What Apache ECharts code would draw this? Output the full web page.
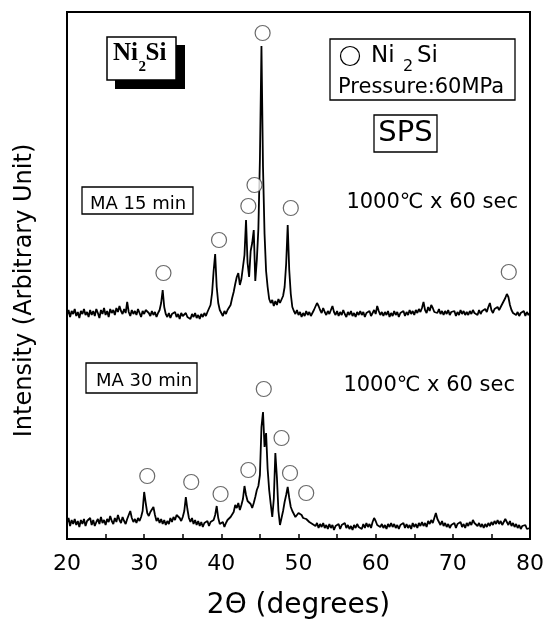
<!DOCTYPE html>
<html><head><meta charset="utf-8">
<script src="https://cdn.jsdelivr.net/npm/echarts@6/dist/echarts.min.js"></script>
<style>html,body{margin:0;padding:0;background:#fff}#c{width:552px;height:630px}</style>
</head><body><div id="c"></div>
<script>
// sampling of the diffraction scans: 2θ from 20° to 80° every 0.2°
const startAngle = 20, stepAngle = 0.2;
// MA 15 min, arbitrary intensity (offset trace)
const ma15 = [
224,229,222,228,225, 230,223,227,221,228, 225,230,224,227,222, 229,224,228,223,230,
226,221,229,225,231, 224,228,222,230,226, 229,224,231,227,233, 228,225,230,226,237,
227,223,229,225,228, 224,230,226,222,228, 225,229,231,226,223, 228,224,227,222,226,
229,236,249,232,225, 222,226,221,225,223, 227,222,225,220,226, 223,221,226,222,224,
220,225,222,226,221, 224,220,225,222,226, 223,227,229,234,246, 268,285,252,236,229,
226,223,228,225,229, 231,234,241,247,255, 262,266,254,260,272, 284,319,276,262,288,
296,309,258,279,310, 380,493,372,305,268, 252,240,236,239,233, 238,234,240,236,238,
243,252,275,314,269, 245,232,228,225,229, 224,227,222,226,223, 228,224,227,223,226,
229,231,236,233,229, 226,231,227,224,228, 225,229,233,227,224, 228,223,227,224,229,
225,222,227,224,228, 223,226,222,227,224, 228,224,227,222,226, 224,228,223,226,229,
225,233,228,224,227, 223,227,224,228,222, 226,223,228,224,227, 222,226,224,228,223,
227,224,229,225,228, 224,229,226,230,227, 231,237,229,226,232, 228,234,231,227,229,
226,230,225,228,224, 228,225,229,224,227, 225,228,223,227,224, 229,225,228,224,227,
224,228,225,229,226, 227,224,229,225,228, 226,230,227,232,236, 229,226,230,228,232,
229,232,235,238,241, 245,242,234,229,226, 228,224,227,223,226, 225,228,223,227,224,
226
];
// MA 30 min
const ma30 = [
16,21,13,19,15, 20,14,18,12,19, 15,20,13,18,16, 21,14,19,13,17,
20,15,22,16,19, 14,20,17,23,18, 15,21,17,24,19, 16,22,18,15,20,
24,28,21,17,20, 16,21,18,22,28, 47,36,26,23,27, 29,32,24,18,21,
16,20,15,19,14, 18,15,21,17,22, 19,24,26,21,18, 22,28,42,30,21,
17,21,15,19,14, 18,13,17,12,16, 14,18,13,17,15, 19,24,33,21,15,
13,17,12,16,19, 17,22,20,27,34, 31,36,29,34,40, 53,44,38,40,35,
31,36,42,49,53, 64,112,127,92,106, 70,49,35,22,40, 86,62,28,14,21,
28,37,44,52,41, 32,28,25,22,24, 26,27,24,21,23, 20,22,17,19,15,
17,13,16,11,15, 12,16,11,14,10, 15,11,14,9,13, 11,15,10,14,12,
16,11,14,10,13, 9,14,11,15,12, 14,10,15,11,16, 12,15,11,17,21,
18,14,16,12,15, 11,14,10,15,12, 16,12,15,11,14, 10,14,12,16,11,
15,11,14,10,16, 12,15,11,16,13, 17,13,16,12,18, 15,19,16,21,26,
20,17,14,18,13, 16,12,15,11,14, 12,16,11,15,13, 17,12,15,11,16,
13,17,14,19,16, 18,13,16,12,15, 11,15,12,16,13, 17,14,18,15,19,
15,18,14,17,20, 17,14,18,13,16, 12,15,11,14,10, 13,11,14,10,12,
11
];
// Ni2Si peak markers (2θ, marker height)
const ma15Peaks = [[32.5,266],[39.7,299],[43.5,333],[44.3,354],[45.35,506],[49.0,331],[77.25,267]];
const ma30Peaks = [[30.4,63],[36.1,57],[39.9,45],[43.5,69],[45.5,150],[47.8,101],[48.9,66],[51.0,46]];
const xMin = 20, xMax = 80, xStep = 10;
const yMax = 527;

const toPairs = arr => arr.map((v, i) => [+(startAngle + i * stepAngle).toFixed(1), v]);

const FONT = '"DejaVu Sans", sans-serif';
function txt(text, x, y, size, opts) {
  return {
    type: 'text', z: 100,
    style: Object.assign({ text, x, y, font: size + 'px ' + FONT, fill: '#000', align: 'left', verticalAlign: 'middle' }, opts || {})
  };
}
function box(x, y, w, h, extra) {
  return { type: 'rect', z: 99, shape: { x, y, width: w, height: h },
    style: Object.assign({ fill: '#fff', stroke: '#000', lineWidth: 1.3 }, extra || {}) };
}

const chart = echarts.init(document.getElementById('c'), null, { renderer: 'canvas' });
chart.setOption({
  animation: false,
  backgroundColor: '#fff',
  grid: { left: 67, top: 12, width: 463, height: 527, show: true, borderColor: '#000', borderWidth: 2, backgroundColor: 'transparent' },
  xAxis: {
    type: 'value', min: xMin, max: xMax, interval: xStep,
    name: '2\u0398 (degrees)', nameLocation: 'middle', nameGap: 53,
    nameTextStyle: { fontFamily: 'DejaVu Sans', fontSize: 28, color: '#000' },
    axisLine: { show: true, lineStyle: { color: '#000', width: 2 } },
    axisTick: { show: true, inside: true, length: 5, lineStyle: { color: '#000', width: 1.5 } },
    minorTick: { show: true, splitNumber: 2, length: 5, lineStyle: { color: '#000', width: 1.5 } },
    axisLabel: { color: '#000', fontFamily: 'DejaVu Sans', fontSize: 22, margin: 14 },
    splitLine: { show: false }
  },
  yAxis: {
    type: 'value', min: 0, max: yMax,
    name: 'Intensity (Arbitrary Unit)', nameLocation: 'middle', nameGap: 30,
    nameTextStyle: { fontFamily: 'DejaVu Sans', fontSize: 24, color: '#000', padding: [0, 30, 0, 0] },
    axisLine: { show: true, lineStyle: { color: '#000', width: 2 } },
    axisTick: { show: false }, axisLabel: { show: false }, splitLine: { show: false }
  },
  series: [
    { name: 'MA 15 min', type: 'line', data: toPairs(ma15), showSymbol: false, symbol: 'none',
      lineStyle: { color: '#000', width: 1.8 }, z: 2 },
    { name: 'MA 30 min', type: 'line', data: toPairs(ma30), showSymbol: false, symbol: 'none',
      lineStyle: { color: '#000', width: 1.8 }, z: 2 },
    { name: 'Ni2Si (15)', type: 'scatter', data: ma15Peaks, symbol: 'circle', symbolSize: 15,
      itemStyle: { color: '#fff', borderColor: '#444', borderWidth: 1.2 }, z: 3 },
    { name: 'Ni2Si (30)', type: 'scatter', data: ma30Peaks, symbol: 'circle', symbolSize: 15,
      itemStyle: { color: '#fff', borderColor: '#444', borderWidth: 1.2 }, z: 3 }
  ],
  graphic: [
    // Ni2Si title box with shadow
    { type: 'rect', z: 98, shape: { x: 115, y: 45, width: 70, height: 44 }, style: { fill: '#000' } },
    box(107, 37, 69, 43, { lineWidth: 1.5 }),
    txt('Ni', 113, 54, 25, { font: 'bold 25px "Liberation Serif", serif' }),
    txt('2', 138.5, 67.5, 15, { font: 'bold 15px "Liberation Serif", serif' }),
    txt('Si', 145.5, 54, 25, { font: 'bold 25px "Liberation Serif", serif' }),
    // legend box
    box(330, 39, 185, 61),
    { type: 'circle', z: 100, shape: { cx: 350, cy: 56, r: 9.5 }, style: { fill: '#fff', stroke: '#000', lineWidth: 1.2 } },
    txt('Ni', 371, 56, 23),
    txt('2', 403, 66.5, 16),
    txt('Si', 417, 56, 23),
    txt('Pressure:60MPa', 338, 87.5, 21),
    // SPS
    box(374, 115, 63, 37),
    txt('SPS', 405.5, 133.5, 29, { align: 'center' }),
    // sample labels
    box(82, 187, 111, 27),
    txt('MA 15 min', 90, 204, 18),
    txt('1000\u2103 x 60 sec', 518, 203, 21, { align: 'right' }),
    box(86, 363, 111, 30),
    txt('MA 30 min', 96, 381.5, 18),
    txt('1000\u2103 x 60 sec', 515, 386, 21, { align: 'right' })
  ]
});
</script>
</body></html>
